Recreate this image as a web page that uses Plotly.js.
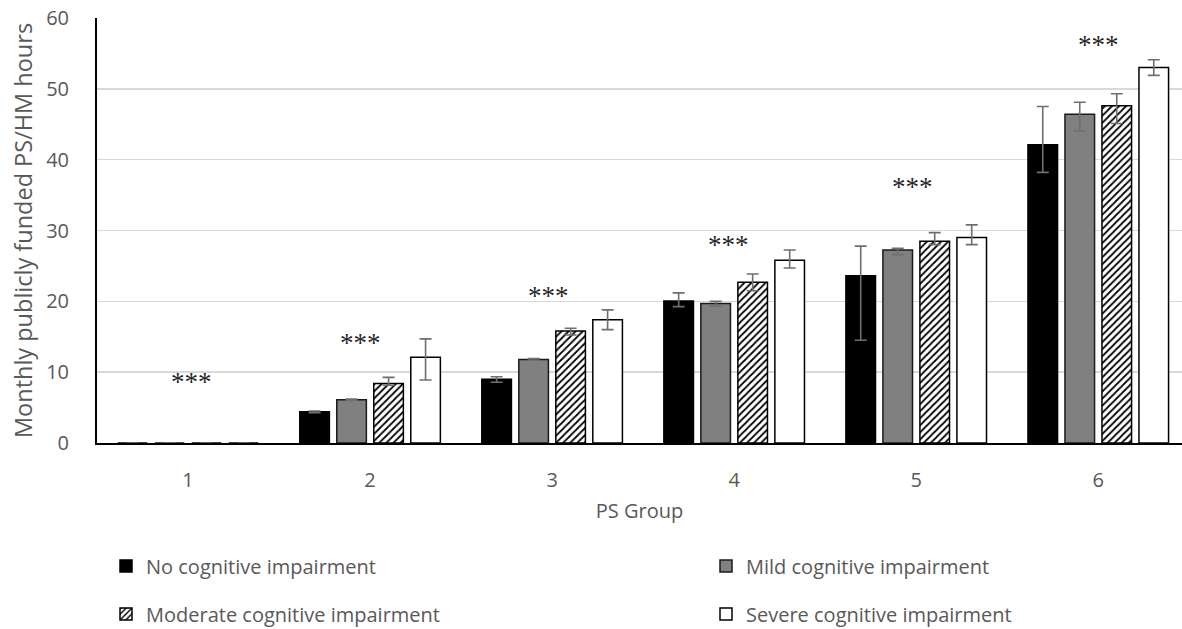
<!DOCTYPE html>
<html>
<head>
<meta charset="utf-8">
<script src="https://cdn.plot.ly/plotly-3.0.1.min.js"></script>
<style>html,body{margin:0;padding:0;background:#fff;}#chart{width:1182px;height:629px;}</style>
</head>
<body>
<div id="chart"></div>
<script>
// ---- data ----
const groups = [1, 2, 3, 4, 5, 6];
const tickLabels = ['1', '2', '3', '4', '5', '6'];

const noImp = [0, 4.4, 9.0, 20.05, 23.6, 42.1];
const noImpPlus = [0, 0.12, 0.36, 1.15, 4.2, 5.4];
const noImpMinus = [0, 0.12, 0.43, 0.8, 9.1, 3.9];

const mild = [0, 6.1, 11.8, 19.7, 27.25, 46.4];
const mildPlus = [0, 0.1, 0.12, 0.3, 0.25, 1.7];
const mildMinus = [0, 0.1, 0.12, 0.4, 0.65, 2.35];

const moderate = [0, 8.4, 15.8, 22.7, 28.5, 47.6];
const moderatePlus = [0, 0.87, 0.4, 1.15, 1.2, 1.7];
const moderateMinus = [0, 0.25, 0.55, 1.2, 0.5, 2.5];

const severe = [0, 12.1, 17.4, 25.8, 29.0, 53.0];
const severePlus = [0, 2.6, 1.4, 1.45, 1.8, 1.1];
const severeMinus = [0, 3.2, 1.4, 1.1, 1.0, 1.1];

const seriesNames = ['No cognitive impairment', 'Mild cognitive impairment',
                     'Moderate cognitive impairment', 'Severe cognitive impairment'];

// significance markers
const starLabel = '***';
const starX = [1.02, 1.95, 2.98, 3.97, 4.98, 6.0];
const starY = [8.65, 14.15, 20.75, 27.95, 36.1, 56.2];

// ---- styling ----
const FONT = '"Open Sans", "Noto Sans", sans-serif';
const GREY_TXT = '#595959';
const errStyle = {color: '#6f6f6f', thickness: 1.6, width: 6};

function mkBar(name, y, plus, minus, marker, legend) {
  return {
    type: 'bar', name: name, x: groups, y: y,
    marker: marker,
    legend: legend,
    error_y: Object.assign({type: 'data', symmetric: false, array: plus, arrayminus: minus, visible: true}, errStyle),
    hoverinfo: 'skip'
  };
}

const traces = [
  mkBar(seriesNames[0], noImp, noImpPlus, noImpMinus,
        {color: '#000000', line: {color: '#000000', width: 1.5}}, 'legend'),
  mkBar(seriesNames[1], mild, mildPlus, mildMinus,
        {color: '#808080', line: {color: '#1a1a1a', width: 1.5}}, 'legend2'),
  mkBar(seriesNames[2], moderate, moderatePlus, moderateMinus,
        {color: '#ffffff', line: {color: '#000000', width: 1.5},
         pattern: {shape: '/', fgcolor: '#000000', bgcolor: '#ffffff', size: 5, solidity: 0.35}}, 'legend3'),
  mkBar(seriesNames[3], severe, severePlus, severeMinus,
        {color: '#ffffff', line: {color: '#000000', width: 1.5}}, 'legend4')
];

const annotations = starX.map((x, i) => ({
  x: x, y: starY[i], xref: 'x', yref: 'y', text: starLabel, showarrow: false,
  font: {family: '"Liberation Serif", "DejaVu Serif", serif', size: 27, color: '#262626'}
}));

function mkLegend(xpx, ypx) {
  return {
    orientation: 'h', xref: 'container', yref: 'container',
    xanchor: 'left', yanchor: 'middle', x: xpx / 1182, y: 1 - ypx / 629,
    font: {family: FONT, size: 20, color: GREY_TXT},
    bgcolor: 'rgba(0,0,0,0)', itemwidth: 30
  };
}

const layout = {
  width: 1182, height: 629,
  margin: {l: 97, r: 0, t: 18, b: 186},
  paper_bgcolor: '#ffffff', plot_bgcolor: '#ffffff',
  barmode: 'group', bargap: 0.187, bargroupgap: 0.2,
  font: {family: FONT, color: GREY_TXT},
  xaxis: {
    range: [0.5, 6.46], tickvals: groups, ticktext: tickLabels,
    showline: true, linecolor: '#000000', linewidth: 2,
    ticks: '', showgrid: false, zeroline: false,
    tickfont: {family: FONT, size: 20, color: GREY_TXT},
    ticklabelstandoff: 18,
    title: {text: 'PS Group', font: {family: FONT, size: 20, color: GREY_TXT}, standoff: 12}
  },
  yaxis: {
    range: [0, 60], dtick: 10, tick0: 0,
    showline: true, linecolor: '#000000', linewidth: 2,
    showgrid: true, gridcolor: '#d9d9d9', gridwidth: 1.5,
    zeroline: false, ticks: '',
    tickfont: {family: FONT, size: 20, color: GREY_TXT},
    ticklabelstandoff: 22,
    title: {text: 'Monthly publicly funded PS/HM hours', font: {family: FONT, size: 23.5, color: GREY_TXT}, standoff: 7}
  },
  legend: mkLegend(106, 566),
  legend2: mkLegend(706, 566),
  legend3: mkLegend(106, 614),
  legend4: mkLegend(706, 614),
  annotations: annotations,
  showlegend: true
};

Plotly.newPlot('chart', traces, layout, {displayModeBar: false, staticPlot: true});
</script>
</body>
</html>
